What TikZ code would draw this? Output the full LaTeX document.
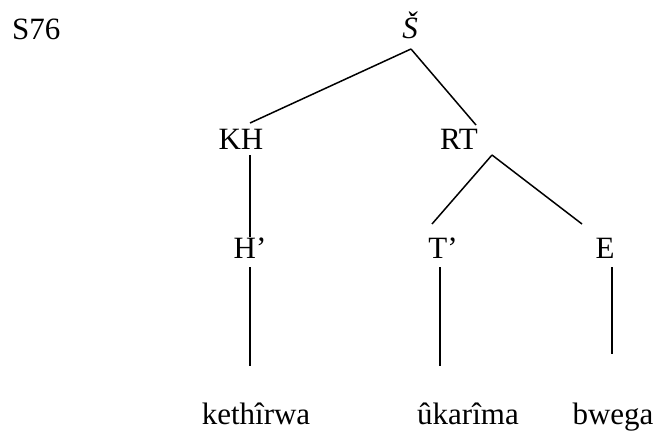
\documentclass[tikz,border=0pt]{standalone}
\usepackage{fontspec}
\setmainfont{Liberation Serif}
\usepackage{tikz}

\begin{document}
\begin{tikzpicture}[
  x=1pt, y=-1pt,
  font=\fontsize{31}{37}\selectfont,
  lab/.style={inner sep=0pt, anchor=base},
  branch/.style={line width=1.5pt}
]
\useasboundingbox (0,0) rectangle (656,431);

% labels
\node[lab, anchor=base west] (tag) at (12,39) {S76};
\node[lab] (root) at (410,38)  {\textit{Š}};
\node[lab] (kh)   at (241,149) {KH};
\node[lab] (rt)   at (459,149) {RT};
\node[lab] (hp)   at (250,258) {H’};
\node[lab] (tp)   at (443,258) {T’};
\node[lab] (e)    at (605,258) {E};
\node[lab] (w1)   at (256,424) {kethîrwa};
\node[lab] (w2)   at (468,424) {ûkarîma};
\node[lab] (w3)   at (613,424) {bwega};

% branches
\draw[branch] ([shift={(1,11)}]root.base) -- ([shift={(9,-26)}]kh.base);
\draw[branch] ([shift={(1,11)}]root.base) -- ([shift={(17,-24)}]rt.base);
\draw[branch] ([shift={(9,6)}]kh.base) -- ([shift={(0,-21)}]hp.base);
\draw[branch] ([shift={(33,6)}]rt.base) -- ([shift={(-11,-34)}]tp.base);
\draw[branch] ([shift={(33,6)}]rt.base) -- ([shift={(-23,-34)}]e.base);
\draw[branch] ([shift={(0,9)}]hp.base) -- ([shift={(-6,-58)}]w1.base);
\draw[branch] ([shift={(-3,9)}]tp.base) -- ([shift={(-28,-58)}]w2.base);
\draw[branch] ([shift={(7,9)}]e.base) -- ([shift={(-1,-70)}]w3.base);

\end{tikzpicture}
\end{document}
